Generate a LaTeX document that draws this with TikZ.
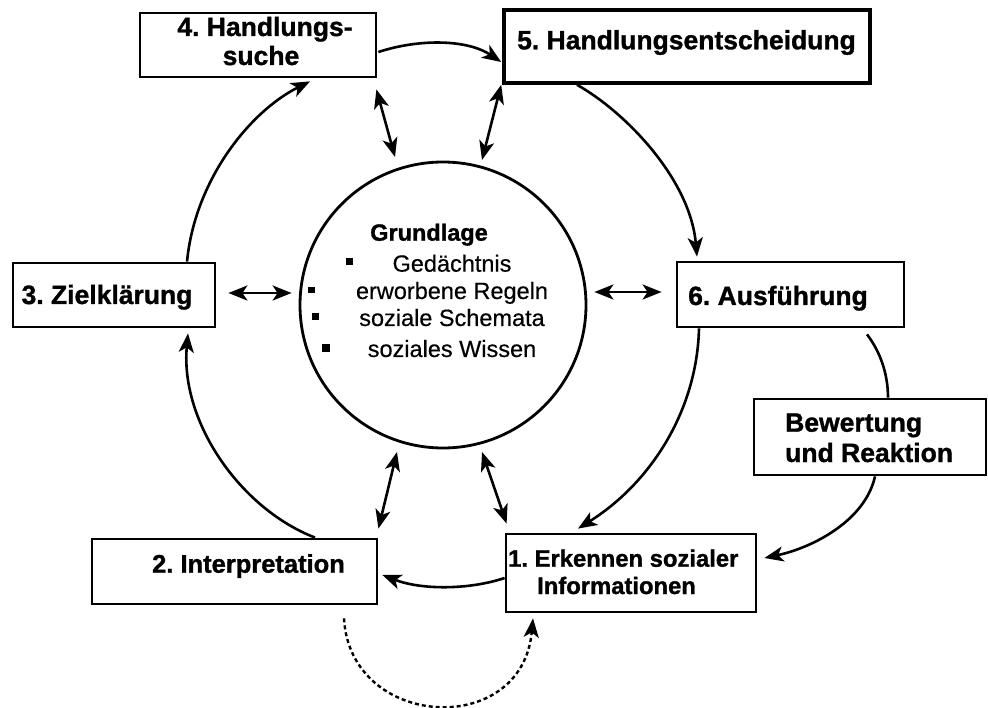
\documentclass[tikz,border=0pt]{standalone}
\usepackage{fontspec}
\setmainfont{Liberation Sans}[BoldFeatures={FakeBold=1.2}]
\newfontfamily\regfont{Liberation Sans}[FakeBold=0.4]
\usepackage{graphicx}
\usetikzlibrary{arrows.meta,calc}
\frenchspacing
\begin{document}
\begin{tikzpicture}[x=1pt,y=-1pt,
  box/.style={draw, rectangle, line width=2.8pt, inner sep=0pt},
  lab/.style={font=\fontsize{26.5}{30}\selectfont\bfseries, anchor=base, inner sep=0pt},
  ctext/.style={font=\regfont\fontsize{23.5}{28}\selectfont, anchor=base, inner sep=0pt},
  flow/.style={line width=2.6pt, -{Stealth[length=19pt,width=15pt,inset=5pt]}},
  dbl/.style={line width=2.6pt, {Stealth[length=19pt,width=15pt,inset=5pt]}-{Stealth[length=19pt,width=15pt,inset=5pt]}},
  thin/.style={line width=2.6pt},
  dashline/.style={line width=2.4pt, dash pattern=on 4pt off 3pt, -{Stealth[length=19pt,width=15pt,inset=5pt]}}
]
\useasboundingbox (0,0) rectangle (988,708);

% boxes
\node[box, minimum width=236pt, minimum height=64pt] (b4) at (258,45) {};
\node[box, line width=3.6pt, minimum width=366pt, minimum height=73pt] (b5) at (687,46.5) {};
\node[box, minimum width=202pt, minimum height=64pt] (b3) at (114,295) {};
\node[box, minimum width=227pt, minimum height=65pt] (b6) at (790.5,294.5) {};
\node[box, minimum width=232pt, minimum height=76pt] (bw) at (870,437) {};
\node[box, minimum width=285pt, minimum height=65pt] (b2) at (234.5,571.5) {};
\node[box, minimum width=250pt, minimum height=78pt] (b1) at (631,573) {};

% circle
\node[draw, circle, line width=2.8pt, minimum size=286pt, inner sep=0pt] (c) at (443,305) {};

% labels
\node[lab] (t4a) at (265,36) {4. Handlungs-};
\node[lab] (t4b) at (261,65) {suche};
\node[lab] (t5) at (686.5,49.3) {5. Handlungsentscheidung};
\node[lab] (t3) at (107,304) {3. Zielklärung};
\node[lab, anchor=base west] (t6) at (688,305) {6. Ausführung};
\node[lab, anchor=base west] (tbw1) at (785,431.7) {Bewertung};
\node[lab, anchor=base west] (tbw2) at (785,462) {und Reaktion};
\node[lab, font=\fontsize{25.5}{30}\selectfont\bfseries] (t2) at (248.5,572.7) {2. Interpretation};
\node[lab, anchor=base west, font=\fontsize{23.8}{28}\selectfont\bfseries] (t1a) at (508,566.7) {1. Erkennen sozialer};
\node[lab, anchor=base west, font=\fontsize{23.8}{28}\selectfont\bfseries] (t1b) at (537,594) {Informationen};

% circle text
\node[ctext, font=\fontsize{23.5}{28}\selectfont\bfseries] (g0) at (429,240.7) {Grundlage};
\node[ctext] (g1) at (452,271.7) {Gedächtnis};
\node[ctext] (g2) at (452,299) {erworbene Regeln};
\node[ctext] (g3) at (452,326) {soziale Schemata};
\node[ctext] (g4) at (452,357) {soziales Wissen};
\fill (346,258) rectangle (353,265);
\fill (308,287) rectangle (315,293);
\fill (312,313) rectangle (319,320);
\fill (322,344) rectangle (330,352);

% cycle connectors
\draw[flow] ($(b4.east)+(1,7)$) .. controls +(43,-14) and +(-33,-22) .. ($(b5.west)+(-1,15.5)$);
\draw[flow] ($(b5.south)+(-110,0)$) .. controls +(48,27) and +(-7,-78) .. ($(b6.north)+(-93.5,-4)$);
\draw[flow] ($(b6.south)+(-91.5,0)$) .. controls +(-2,83) and +(72,-45) .. ($(b1.north)+(-53,-4)$);
\draw[flow] ($(b1.west)+(0,5)$) .. controls +(-36,12) and +(39,15) .. ($(b2.east)+(4,3.5)$);
\draw[flow] ($(b2.north)+(80.5,0)$) .. controls +(-75,-29) and +(-8,88) .. ($(b3.south)+(74,5)$);
\draw[flow] ($(b3.north)+(73,0)$) .. controls +(8,-82) and +(-60,30) .. ($(b4.south)+(52,3)$);

% evaluation loop
\draw[thin] ($(b6.south)+(76.5,6)$) .. controls +(13,17) and +(0,-24) .. ($(bw.north)+(18,0)$);
\draw[flow] ($(bw.south)+(5,0)$) .. controls +(-10,45) and +(47,-10) .. ($(b1.east)+(7,-15)$);

% dashed
\draw[dashline] ($(b2.south)+(109.5,13)$) .. controls +(6,111) and +(-11,121) .. ($(b1.south)+(-98,5)$);

% double arrows to circle
\draw[dbl] ($(b3.east)+(12,-2)$) -- ($(c.west)+(-7,-12)$);
\draw[dbl] ($(c.east)+(7,-13)$) -- ($(b6.west)+(-14,-2.5)$);
\draw[dbl] ($(b4.south east)+(-1,11)$) -- ($(c.center)+(-48,-148)$);
\draw[dbl] ($(b5.south west)+(-1,0)$) -- ($(c.center)+(39,-145)$);
\draw[dbl] ($(c.center)+(-46,147)$) -- ($(b2.north east)+(0,-9)$);
\draw[dbl] ($(c.center)+(39,147)$) -- ($(b1.north west)+(2,-9)$);
\end{tikzpicture}
\end{document}
